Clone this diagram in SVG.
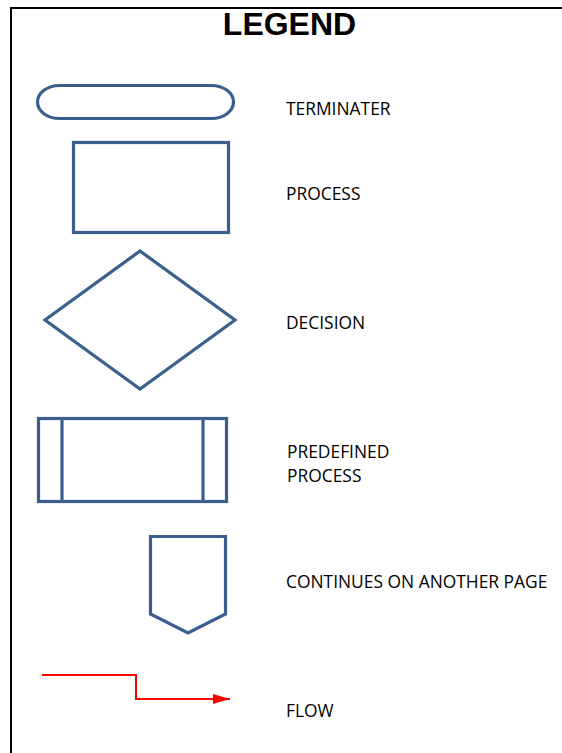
<svg xmlns="http://www.w3.org/2000/svg" width="562" height="753" viewBox="0 0 562 753">
<style>
.shape{fill:none;stroke:#3A5F8F;stroke-width:3.2;stroke-linejoin:miter}
.lbl{font-family:"Open Sans","Liberation Sans",sans-serif;font-size:17.4px;fill:#000}
.title{font-family:"Liberation Sans",Arial,sans-serif;font-weight:bold;font-size:32px;fill:#000;text-anchor:middle}
.border{fill:none;stroke:#000;stroke-width:2}
.flow{fill:none;stroke:#FF0000;stroke-width:2}
</style>
<defs>
<marker id="arrow" viewBox="0 0 17 10" refX="17" refY="5" markerWidth="17" markerHeight="10" markerUnits="userSpaceOnUse" orient="auto">
<path d="M0,0 L17,5 L0,10 Z" fill="#FF0000"/>
</marker>
</defs>
<rect width="562" height="753" fill="#fff"/>
<g id="frame">
<path class="border" d="M11,753 V8 H562"/>
<text class="title" x="289.5" y="35">LEGEND</text>
</g>
<g id="terminator">
<rect class="shape" x="37.5" y="85.5" width="196" height="33" rx="22" ry="16.5"/>
<text class="lbl" x="286" y="115">TERMINATER</text>
</g>
<g id="process">
<rect class="shape" x="73.5" y="142.5" width="155" height="90"/>
<text class="lbl" x="286" y="200">PROCESS</text>
</g>
<g id="decision">
<polygon class="shape" points="140,251 235,320 140,389 45,320"/>
<text class="lbl" x="286" y="329">DECISION</text>
</g>
<g id="predefined">
<rect class="shape" x="38.5" y="418.5" width="188" height="83"/>
<line class="shape" x1="62" y1="418.5" x2="62" y2="501.5"/>
<line class="shape" x1="203" y1="418.5" x2="203" y2="501.5"/>
<text class="lbl" x="287" y="458">PREDEFINED</text>
<text class="lbl" x="287" y="482">PROCESS</text>
</g>
<g id="offpage">
<polygon class="shape" points="150.5,536.5 225.5,536.5 225.5,614 188,633 150.5,614"/>
<text class="lbl" x="286" y="588">CONTINUES ON ANOTHER PAGE</text>
</g>
<g id="connectors">
<path class="flow" d="M42,675 H136 V699 H230" marker-end="url(#arrow)"/>
</g>
<g id="flow-label">
<text class="lbl" x="286" y="717">FLOW</text>
</g>
</svg>
